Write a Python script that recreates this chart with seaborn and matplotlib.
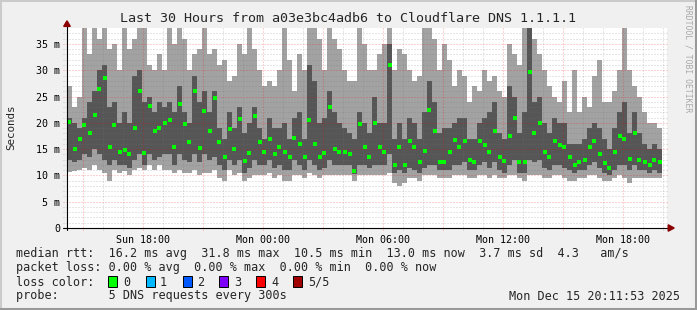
import numpy as np
import pandas as pd
import matplotlib
matplotlib.use("Agg")
import matplotlib.pyplot as plt
from matplotlib.patches import Rectangle, Polygon
from matplotlib.lines import Line2D
import seaborn as sns

# ---------------- data ----------------
START = "2025-12-14 14:11:53"
END = "2025-12-15 20:11:53"
STEP = "15min"

title = "Last 30 Hours from a03e3bc4adb6 to Cloudflare DNS 1.1.1.1"
y_label = "Seconds"
y_ticks = [0, 5, 10, 15, 20, 25, 30, 35]
y_tick_labels = ["0", "5 m", "10 m", "15 m", "20 m", "25 m", "30 m", "35 m"]
x_tick_times = ["2025-12-14 18:00", "2025-12-15 00:00", "2025-12-15 06:00",
                "2025-12-15 12:00", "2025-12-15 18:00"]
x_tick_labels = ["Sun 18:00", "Mon 00:00", "Mon 06:00", "Mon 12:00", "Mon 18:00"]

# round-trip times in ms: highest ping, upper inner ping, median, lower inner ping, lowest ping
hi_ms = [27, 23, 25, 38, 33, 38, 36, 38, 34, 35, 30, 38, 34, 36, 38, 38, 31, 30, 33, 30,
         38, 35, 38, 36, 30, 33, 34, 38, 33, 34, 31, 32, 28, 29, 35, 33, 38, 34, 30, 27,
         28, 27, 30, 38, 32, 26, 33, 30, 38, 38, 36, 30, 38, 36, 34, 30, 28, 28, 38, 35,
         30, 30, 33, 35, 38, 30, 34, 33, 30, 28, 29, 38, 38, 36, 30, 35, 32, 27, 30, 29,
         24, 27, 26, 30, 28, 29, 26, 25, 35, 33, 31, 38, 38, 36, 33, 30, 27, 25, 24, 28,
         22, 30, 22, 25, 23, 29, 32, 24, 24, 26, 30, 38, 30, 27, 25, 22, 20, 20, 19]
q3_ms = [21, 20, 19, 21, 24, 26, 30, 31, 23, 24, 20, 22, 20, 29, 30, 24, 25, 22, 24, 23,
         24, 22, 27, 22, 20, 29, 24, 26, 22, 26, 19, 17, 22, 19, 23, 18, 20, 23, 19, 17,
         21, 19, 19, 20, 17, 21, 22, 17, 31, 28, 20, 21, 26, 22, 20, 19, 18, 17, 22, 20,
         18, 25, 20, 20, 35, 17, 20, 17, 21, 20, 17, 22, 28, 24, 18, 19, 19, 20, 21, 21,
         17, 17, 20, 21, 22, 24, 18, 17, 27, 25, 18, 22, 38, 24, 25, 20, 18, 21, 20, 20,
         16, 16, 16, 17, 19, 20, 19, 17, 15, 19, 22, 24, 18, 22, 18, 16, 15, 16, 15]
med_ms = [20.1, 15.0, 17.0, 19.5, 18.0, 21.5, 26.5, 28.5, 15.5, 19.5, 14.5, 14.8, 14.0, 19.0, 26.0, 14.2, 23.2, 18.5, 19.0, 20.0,
          20.5, 15.5, 23.5, 19.8, 16.3, 26.0, 15.3, 22.2, 18.5, 24.8, 16.3, 13.5, 18.8, 15.0, 20.7, 12.8, 14.3, 21.3, 16.3, 14.5,
          17.0, 14.0, 15.5, 14.5, 13.5, 17.2, 16.0, 13.5, 20.5, 16.0, 13.5, 14.2, 23.0, 15.0, 14.5, 14.5, 14.0, 10.8, 19.7, 15.5,
          13.5, 20.0, 15.5, 14.5, 31.0, 12.0, 15.5, 12.0, 16.5, 15.5, 12.5, 14.7, 22.5, 18.5, 12.5, 12.5, 14.5, 16.8, 15.5, 16.5,
          13.0, 12.5, 16.5, 15.8, 14.5, 18.5, 13.5, 12.8, 17.5, 21.0, 12.5, 12.5, 29.7, 18.0, 20.0, 14.5, 13.5, 16.5, 15.7, 15.5,
          13.5, 12.0, 12.5, 13.0, 15.5, 16.5, 14.0, 12.3, 11.5, 14.5, 17.5, 17.0, 13.2, 18.0, 13.0, 12.5, 12.0, 13.0, 12.5]
q1_ms = [13, 12.5, 13, 14, 13.5, 15, 14, 13, 12, 13, 12, 12, 11.5, 13, 14, 12, 14, 13, 13.5, 14,
         14, 12, 14, 13, 12.5, 14, 12.5, 14, 13, 13.5, 12, 11, 13, 12, 13, 10.5, 11.5, 13, 12, 12,
         13, 11.5, 12, 11, 11, 13, 12, 11, 13, 12, 11, 11.5, 13, 12, 12, 12, 12, 10.3, 12, 12,
         11.5, 12, 12, 12, 14, 10.5, 11, 10.5, 11.5, 11, 10.5, 11.5, 12, 12, 11, 11, 11, 12, 12, 12.5,
         11, 11, 12, 12.5, 11.5, 12.5, 11, 10.5, 12, 13, 10.5, 10.5, 13, 12.5, 13, 11.5, 11, 12, 12, 11.5,
         11, 10.5, 11, 11, 12, 12.5, 11.5, 10.5, 10, 11, 12, 12, 11, 12, 11, 11, 10.5, 11, 10.5]
lo_ms = [10.6, 10.8, 11, 11.5, 11, 12, 11, 10.5, 9, 11, 10.5, 10.8, 10, 11, 11.5, 11, 12, 11, 12, 11,
         11, 10.5, 11, 10.5, 10.5, 11, 10, 10.5, 10.5, 11, 9.5, 9, 11, 10, 10.5, 9, 9.5, 10, 10, 10,
         10.5, 9.5, 10, 9, 9, 10, 10, 9.5, 10.5, 10, 9.5, 10, 10, 10, 10, 10, 10, 9, 10, 10,
         10, 10, 10, 10, 10.5, 8.5, 8, 8.5, 9.5, 9.5, 9, 10, 10, 10, 9.5, 9.5, 9.5, 10, 10, 10,
         9.5, 9.5, 10, 10, 9.5, 10, 9.5, 9.5, 10, 10, 9.5, 9, 10, 10, 10, 9.5, 9.5, 10, 10, 9.5,
         9, 9, 9.5, 9.5, 10, 10, 9.5, 9, 9, 9.5, 10, 9.5, 8.5, 9.5, 9.5, 9.5, 9.5, 9.5, 9.5]

legend_rows = [
    "median rtt:  16.2 ms avg  31.8 ms max  10.5 ms min  13.0 ms now  3.7 ms sd  4.3   am/s",
    "packet loss: 0.00 % avg  0.00 % max  0.00 % min  0.00 % now",
    "loss color:",
    "probe:       5 DNS requests every 300s",
]
loss_labels = ["0", "1", "2", "3", "4", "5/5"]
loss_colors = ["#00ff00", "#00b8ff", "#0059ff", "#7e00ff", "#ff0000", "#a10000"]
timestamp = "Mon Dec 15 20:11:53 2025"
watermark = "RRDTOOL / TOBI OETIKER"

# ---------------- style ----------------
sns.set_style("white")
MONO = "DejaVu Sans Mono"
plt.rcParams["font.family"] = [MONO, "DejaVu Sans"]

W, H = 697, 310
fig = plt.figure(figsize=(W / 100, H / 100), dpi=100, facecolor="#f0f0f0")


def fx(x):
    return x / W


def fy(y):
    return 1 - y / H


# frame (rrdtool 3D shade)
fig.add_artist(Line2D([0, 1], [fy(1), fy(1)], color="#cbcbcb", lw=1.5, transform=fig.transFigure))
fig.add_artist(Line2D([fx(1), fx(1)], [0, 1], color="#cbcbcb", lw=1.5, transform=fig.transFigure))
fig.add_artist(Line2D([0, 1], [fy(308.5), fy(308.5)], color="#999999", lw=2.2, transform=fig.transFigure))
fig.add_artist(Line2D([fx(695.5), fx(695.5)], [0, 1], color="#999999", lw=2.2, transform=fig.transFigure))

ax = fig.add_axes([fx(67), fy(228), 600 / W, 200 / H])
ax.set_facecolor("white")
for s in ax.spines.values():
    s.set_visible(False)

n = len(med_ms)
edges = pd.date_range(START, periods=n + 1, freq=STEP)
centers = edges[:-1] + pd.Timedelta(minutes=7.5)


def ext(a):
    return np.append(np.asarray(a, float), a[-1])


ax.fill_between(edges, ext(lo_ms), ext(hi_ms), step="post", color="#a2a2a2", lw=0, zorder=1)
ax.fill_between(edges, ext(q1_ms), ext(q3_ms), step="post", color="#565656", lw=0, zorder=1.1)

df = pd.DataFrame({"time": centers, "median": med_ms})
sns.scatterplot(data=df, x="time", y="median", ax=ax, marker="s", s=5, color="#00ff00",
                linewidth=0, zorder=4, legend=False)

t0, t1 = pd.Timestamp(START), pd.Timestamp(END)
ax.set_xlim(t0, t1)
ax.set_ylim(0, 38.04)

# grid (drawn on top, like rrdtool)
hours = pd.date_range("2025-12-14 15:00", "2025-12-15 20:00", freq="1h")
minor_c = (0.45, 0.45, 0.45, 0.35)
major_c = (1.0, 0.0, 0.0, 0.35)
dots = (0, (1, 2))
for h in hours:
    c = major_c if h.hour % 3 == 0 else minor_c
    ax.plot([h, h], [-0.012, 1], transform=ax.get_xaxis_transform(), color=c, lw=0.72,
            ls=dots, zorder=3, clip_on=False)
for v in range(1, 38):
    c = major_c if v % 5 == 0 else minor_c
    ax.plot([-0.006, 1], [v, v], transform=ax.get_yaxis_transform(), color=c, lw=0.72,
            ls=dots, zorder=3, clip_on=False)

# axes with arrows
ax.plot([-0.006, 1.003], [0, 0], transform=ax.transAxes, color="black", lw=0.8, clip_on=False, zorder=5)
ax.plot([0, 0], [-0.012, 1.01], transform=ax.transAxes, color="black", lw=0.8, clip_on=False, zorder=5)
ax.add_patch(Polygon([(-0.0055, 1.008), (0.0055, 1.008), (0, 1.036)], closed=True,
                     transform=ax.transAxes, color="#8b0000", clip_on=False, zorder=6))
ax.add_patch(Polygon([(1.002, -0.016), (1.002, 0.016), (1.012, 0)], closed=True,
                     transform=ax.transAxes, color="#8b0000", clip_on=False, zorder=6))

ax.set_yticks(y_ticks)
ax.set_yticklabels(y_tick_labels)
ax.set_xticks(pd.to_datetime(x_tick_times))
ax.set_xticklabels(x_tick_labels)
ax.tick_params(axis="both", length=0, labelsize=7.2, colors="black")
ax.tick_params(axis="y", pad=5)
ax.tick_params(axis="x", pad=5)
ax.set_xlabel("")
ax.set_ylabel("")

fig.text(fx(11), fy(127), y_label, rotation=90, ha="center", va="center", fontsize=7.8)
fig.text(fx(348), fy(18.5), title, ha="center", va="center", fontsize=9.6)
fig.text(fx(688), fy(5), watermark, rotation=-90, ha="center", va="top", fontsize=5.8,
         color="#a8a8a8")

row_y = [254, 268, 282, 296]
for txt, y in zip(legend_rows, row_y):
    fig.text(fx(16), fy(y), txt, ha="left", va="center", fontsize=8.5)
box_x = [108, 146, 183, 219, 256, 293]
lab_x = [123, 160, 197, 234, 271, 308]
for bx, lx, lab, col in zip(box_x, lab_x, loss_labels, loss_colors):
    fig.add_artist(Rectangle((fx(bx), fy(286.5)), 9 / W, 11 / H, transform=fig.transFigure,
                             facecolor=col, edgecolor="black", lw=0.7))
    fig.text(fx(lx), fy(282), lab, ha="left", va="center", fontsize=8.5)
fig.text(fx(680), fy(296), timestamp, ha="right", va="center", fontsize=8.5)

fig.savefig("out.png", dpi=100, facecolor=fig.get_facecolor())
